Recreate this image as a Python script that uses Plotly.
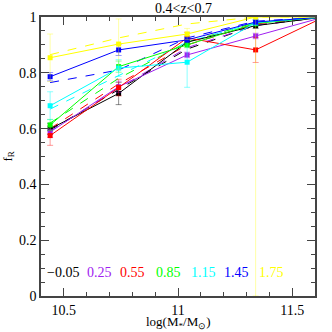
import plotly.graph_objects as go

mass = [10.44, 10.74, 11.04, 11.34, 11.64]
labels = ["\u22120.05", "0.25", "0.55", "0.85", "1.15", "1.45", "1.75"]
colors = ["#000000", "#a020f0", "#ff0000", "#00ff00", "#00ffff", "#0000ff", "#ffff00"]
err_colors = ["rgba(0,0,0,0.45)", "rgba(160,32,240,0.4)", "rgba(255,0,0,0.4)",
              "rgba(0,255,0,0.4)", "rgba(0,255,255,0.45)", "rgba(0,0,255,0.4)",
              "rgba(255,255,0,0.35)"]

fr_black = [0.599, 0.726, 0.910, 0.969, 1.0]
fr_purple = [0.588, 0.750, 0.864, 0.932, 1.0]
fr_red = [0.575, 0.747, 0.925, 0.882, 1.0]
fr_green = [0.613, 0.822, 0.900, 0.977, 1.0]
fr_cyan = [0.682, 0.817, 0.838, 0.980, 1.0]
fr_blue = [0.786, 0.882, 0.918, 0.982, 1.0]
fr_yellow = [0.854, 0.903, 0.939, 1.0, 1.0]

err_black = [0.02, 0.04, 0.01, 0.01, 0]
err_purple = [0.02, 0.02, 0.01, 0.01, 0]
err_red = [0.035, 0.03, 0.02, 0.045, 0]
err_green = [0.02, 0.02, 0.01, 0.01, 0]
err_cyan = [0.05, 0.03, 0.09, 0.01, 0]
err_blue = [0.015, 0.02, 0.01, 0.01, 0]
err_yellow = [0.085, 0.09, 0.02, 1.0, 0]

model_black = [0.595, 0.740, 0.885, 0.970, 1.0]
model_purple = [0.590, 0.745, 0.890, 0.970, 1.0]
model_red = [0.600, 0.760, 0.900, 0.975, 1.0]
model_green = [0.620, 0.780, 0.910, 0.980, 1.0]
model_cyan = [0.670, 0.790, 0.910, 0.980, 1.0]
model_blue = [0.765, 0.810, 0.925, 0.985, 1.0]
model_yellow = [0.865, 0.925, 0.975, 1.0, 1.0]

label_x = [10.497, 10.656, 10.80, 10.957, 11.11, 11.257, 11.409]
label_y = 0.086

fr = [fr_black, fr_purple, fr_red, fr_green, fr_cyan, fr_blue, fr_yellow]
errs = [err_black, err_purple, err_red, err_green, err_cyan, err_blue, err_yellow]
models = [model_black, model_purple, model_red, model_green, model_cyan, model_blue, model_yellow]

FONT = "Liberation Serif"

fig = go.Figure()
for m, c in zip(models, colors):
    fig.add_trace(go.Scatter(x=mass, y=m, mode="lines",
                             line=dict(color=c, width=1, dash="dash"),
                             showlegend=False, hoverinfo="skip", cliponaxis=True))
for f, e, c, ec in zip(fr, errs, colors, err_colors):
    fig.add_trace(go.Scatter(x=mass, y=f, mode="lines+markers",
                             line=dict(color=c, width=1),
                             marker=dict(symbol="square", size=5, color=c),
                             error_y=dict(type="data", array=e, color=ec, thickness=1, width=3),
                             showlegend=False, cliponaxis=True))

for lx, t, c in zip(label_x, labels, colors):
    fig.add_annotation(x=lx, y=label_y, text=t, showarrow=False,
                       font=dict(color=c, size=14, family=FONT))

fig.add_annotation(x=0.52, y=1.0, xref="paper", yref="paper", yanchor="bottom",
                   text="0.4<z<0.7", showarrow=False, yshift=-1,
                   font=dict(size=14, family=FONT, color="black"))
fig.add_annotation(x=0.5, y=0, xref="paper", yref="paper", yanchor="top",
                   text="log(M<sub>*</sub>/M<sub>\u2299</sub>)", showarrow=False, yshift=-16,
                   font=dict(size=13, family=FONT, color="black"))
fig.add_annotation(x=0, y=0.5, xref="paper", yref="paper", xanchor="center",
                   text="f<sub>R</sub>", showarrow=False, xshift=-33, textangle=-90,
                   font=dict(size=13, family=FONT, color="black"))

axis_common = dict(showgrid=False, zeroline=False, ticks="inside", mirror="ticks",
                   showline=True, linecolor="#444", linewidth=1.5, tickcolor="#444",
                   tickfont=dict(size=14, family=FONT, color="black"))

fig.update_xaxes(range=[10.4, 11.6], tickvals=[10.5, 11, 11.5], ticklen=8,
                 minor=dict(dtick=0.1, ticks="inside", ticklen=4, tickcolor="#444"),
                 **axis_common)
fig.update_yaxes(range=[0, 1], tickvals=[0, 0.2, 0.4, 0.6, 0.8, 1], ticklen=8,
                 ticktext=["0", "0.2", "0.4", "0.6", "0.8", "1"],
                 minor=dict(dtick=0.05, ticks="inside", ticklen=4, tickcolor="#444"),
                 **axis_common)

fig.update_layout(width=332, height=332,
                  margin=dict(l=41, r=17, t=17, b=36, autoexpand=False),
                  plot_bgcolor="white", paper_bgcolor="white")
fig.write_html("out.html", config={"displayModeBar": False},
               post_script="document.body.style.margin='0';document.body.style.overflow='hidden';")
